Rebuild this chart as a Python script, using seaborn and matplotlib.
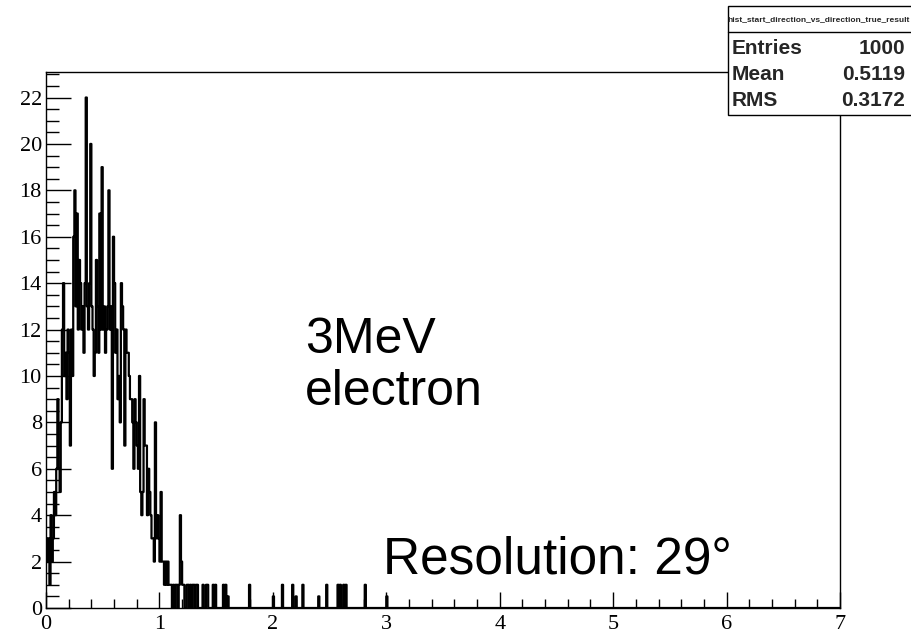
import numpy as np
import pandas as pd
import matplotlib
matplotlib.use("Agg")
import matplotlib.pyplot as plt
from matplotlib.patches import Rectangle
from matplotlib.lines import Line2D
import seaborn as sns

# ---- data (bin width 0.01, counts per bin starting at 0) ----
bin_width = 0.01
x_min, x_max = 0.0, 7.0
main_counts = [
    3, 2, 3, 1, 4, 2, 3, 5, 4, 6,
    9, 6, 5, 8, 12, 14, 10, 11, 9, 12,
    11, 7, 12, 10, 16, 18, 13, 17, 12, 15,
    14, 12, 13, 11, 14, 22, 13, 12, 14, 20,
    13, 12, 10, 11, 15, 13, 11, 17, 12, 19,
    12, 13, 11, 12, 13, 18, 12, 13, 6, 16,
    14, 11, 12, 9, 10, 8, 14, 13, 12, 7,
    12, 11, 11, 10, 9, 9, 8, 6, 9, 8,
    7, 6, 10, 5, 4, 5, 9, 7, 7, 4,
    6, 5, 4, 3, 3, 2, 8, 3, 4, 3,
    2, 5, 2, 2, 1, 2, 1, 2, 1, 1,
    1, 0, 1, 0, 1, 1, 0, 1, 4, 2,
    1, 1, 0, 0, 1, 1, 0, 1, 0, 1,
    1, 0, 1, 1,
]
tail_x = [1.385, 1.415, 1.425, 1.475, 1.495, 1.565, 1.585, 1.605, 1.795,
          2.005, 2.085, 2.175, 2.205, 2.265, 2.405, 2.475, 2.575, 2.595,
          2.625, 2.645, 2.815, 3.005]
tail_counts = [1, 1, 1, 1, 1, 1, 1, 0.5, 1,
               0.5, 1, 1, 0.5, 1, 0.5, 1, 1, 1,
               1, 1, 1, 0.5]

stats_title = "hist_start_direction_vs_direction_true_result"
stats_names = ["Entries", "Mean", "RMS"]
stats_values = ["1000", "0.5119", "0.3172"]
label_lines = ["3MeV", "electron"]
resolution_text = "Resolution: 29°"

x_major = [0, 1, 2, 3, 4, 5, 6, 7]
y_major = [0, 2, 4, 6, 8, 10, 12, 14, 16, 18, 20, 22]

# ---- build table ----
main_centers = (np.arange(len(main_counts)) + 0.5) * bin_width
df = pd.DataFrame({
    "x": np.concatenate([main_centers, np.array(tail_x)]),
    "w": np.concatenate([np.array(main_counts, float), np.array(tail_counts, float)]),
})
n_bins = int(round((x_max - x_min) / bin_width))

sns.set_theme(style="white")
plt.rcParams["font.family"] = ["Liberation Serif", "DejaVu Serif"]

W, H = 912, 634
fig = plt.figure(figsize=(W / 100, H / 100), dpi=100)
ax = fig.add_axes([46 / W, 1 - 608 / H, (840 - 46) / W, (608 - 72) / H])

sns.histplot(data=df, x="x", weights="w", bins=n_bins, binrange=(x_min, x_max),
             element="step", fill=False, color="black", linewidth=1.6, ax=ax)

ax.set_xlim(x_min, x_max)
ax.set_ylim(0, 23.1)
ax.set_xlabel("")
ax.set_ylabel("")
ax.set_xticks(x_major)
ax.set_yticks(y_major)
ax.set_xticks(np.arange(0, 7.01, 0.2), minor=True)
ax.set_yticks(np.arange(0, 23.01, 0.5), minor=True)
ax.tick_params(axis="x", which="major", direction="in", length=11.5, width=1,
               color="black", labelsize=16, pad=5, bottom=True, top=False)
ax.tick_params(axis="x", which="minor", direction="in", length=6.5, width=1,
               color="black", bottom=True, top=False)
ax.tick_params(axis="y", which="major", direction="in", length=18, width=1,
               color="black", labelsize=16, pad=3, left=True, right=False)
ax.tick_params(axis="y", which="minor", direction="in", length=9.5, width=1,
               color="black", left=True, right=False)
ax.tick_params(labelcolor="black")
for s in ax.spines.values():
    s.set_color("black")
    s.set_linewidth(1.0)
    s.set_visible(True)

# ---- annotation text ----
sans = ["Liberation Sans", "DejaVu Sans"]
fig.text(305 / W, 1 - 353 / H, label_lines[0], family=sans, fontsize=36,
         va="baseline", ha="left", color="black")
fig.text(305 / W, 1 - 405 / H, label_lines[1], family=sans, fontsize=36,
         va="baseline", ha="left", color="black")
fig.text(383 / W, 1 - 574 / H, resolution_text, family=sans, fontsize=37,
         va="baseline", ha="left", color="black")

# ---- stats box ----
bx0, bx1, by0, by1, bsep = 728, 914, 6, 115, 32
fig.add_artist(Rectangle((bx0 / W, 1 - by1 / H), (bx1 - bx0) / W, (by1 - by0) / H,
                         transform=fig.transFigure, facecolor="white",
                         edgecolor="black", linewidth=1.0, zorder=5))
fig.add_artist(Line2D([bx0 / W, bx1 / W], [1 - bsep / H, 1 - bsep / H],
                      transform=fig.transFigure, color="black", linewidth=1.0, zorder=6))
fig.text(819 / W, 1 - 20 / H, stats_title, family=sans, fontsize=6,
         ha="center", va="center", zorder=7, fontweight="bold")
row_y = [48, 74, 100]
for name, val, ry in zip(stats_names, stats_values, row_y):
    fig.text(732 / W, 1 - ry / H, name, family=sans, fontsize=15, fontweight="bold",
             ha="left", va="center", zorder=7)
    fig.text(905 / W, 1 - ry / H, val, family=sans, fontsize=15, fontweight="bold",
             ha="right", va="center", zorder=7)

fig.savefig("out.png", dpi=100, facecolor="white")
